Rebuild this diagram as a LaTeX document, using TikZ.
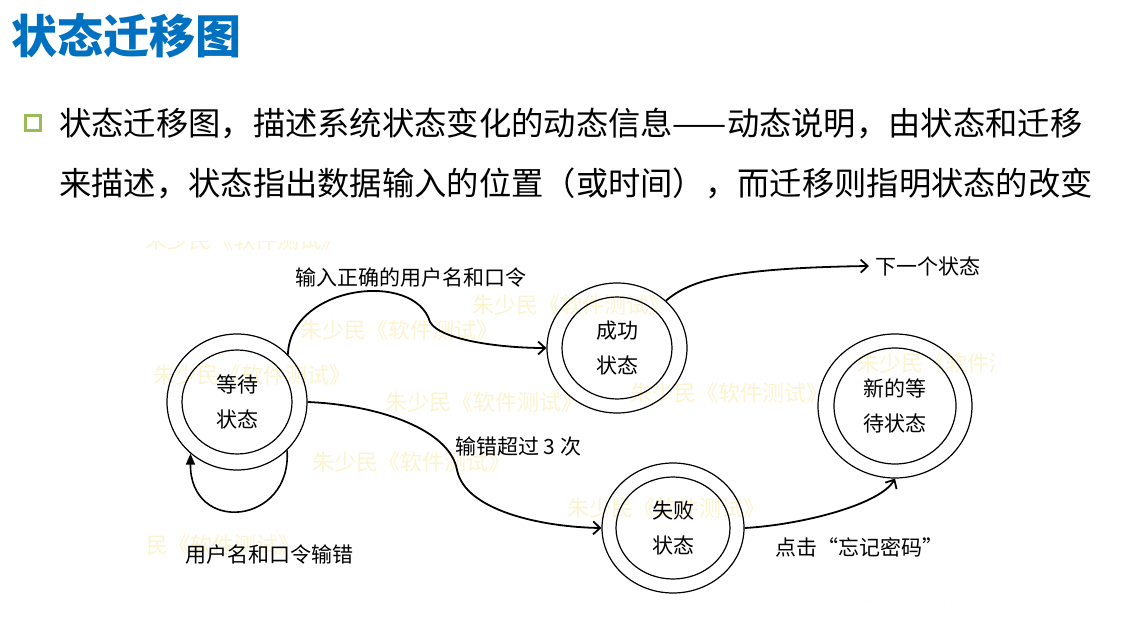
\documentclass[tikz,border=0pt]{standalone}
\usepackage{fontspec}
\setmainfont{Noto Sans CJK SC}
\usetikzlibrary{arrows.meta,shapes.geometric}
\definecolor{titleblue}{RGB}{0,112,192}
\definecolor{bulletgreen}{RGB}{155,187,89}
\definecolor{wm}{RGB}{252,244,208}
\begin{document}
\begin{tikzpicture}[x=1pt,y=-1pt,
  state/.style={ellipse, draw, line width=1.2pt, inner sep=0pt, align=center, font=\fontsize{21}{35}\selectfont},
  innerring/.style={line width=1.2pt},
  edge/.style={line width=1.8pt, -{Straight Barb[length=7pt,width=13pt,line width=1.8pt]}},
  loopedge/.style={line width=1.6pt, -{Triangle[length=11pt,width=9pt]}},
  lbl/.style={font=\fontsize{21}{25}\selectfont, inner sep=0pt, anchor=west},
  wmark/.style={text=wm, font=\fontsize{22}{22}\selectfont, anchor=west, inner sep=0pt},
  bodytext/.style={anchor=west, font=\fontsize{32.3}{33}\selectfont, inner sep=0pt}
]
\useasboundingbox (0,0) rectangle (1121,639);
\fill[white] (0,0) rectangle (1121,639);

% title and bullet text
\node[anchor=west, text=titleblue, font=\fontsize{46}{46}\selectfont\bfseries, inner sep=0pt] (title) at (11,36) {状态迁移图};
\node[draw=bulletgreen, line width=3.5pt, minimum size=15pt, inner sep=0pt] (bul) at (33,123) {};
\node[bodytext] (b1) at (59,124) {状态迁移图，描述系统状态变化的动态信息——动态说明，由状态和迁移};
\node[bodytext] (b2) at (59,183) {来描述，状态指出数据输入的位置（或时间），而迁移则指明状态的改变};

% watermarks
\begin{scope}
\clip (146,241) rectangle (995,600);
\foreach \x/\y [count=\i] in {145/240, 472/305, 300/330, 153/375, 385/402, 630/393, 312/462, 567/508, 102/545, 857/363, 858/611}
  \node[wmark] (wm\i) at (\x,\y) {朱少民《软件测试》};
\end{scope}

% states
\node[state, minimum width=140pt, minimum height=136pt] (w) at (237,402) {等待\\状态};
\draw[innerring] (w.center) ellipse [x radius=55pt, y radius=52pt];
\node[state, minimum width=140pt, minimum height=130pt] (s) at (617,348) {成功\\状态};
\draw[innerring] (s.center) ellipse [x radius=55pt, y radius=51pt];
\node[state, minimum width=142pt, minimum height=130pt] (f) at (673,528) {失败\\状态};
\draw[innerring] (f.center) ellipse [x radius=57pt, y radius=51pt];
\node[state, minimum width=154pt, minimum height=144pt] (n) at (895,406) {新的等\\待状态};
\draw[innerring] (n.center) ellipse [x radius=61pt, y radius=58pt];

% labels
\node[lbl] (l1) at (295,278) {输入正确的用户名和口令};
\node[lbl, inner xsep=6pt] (nx) at (869,266) {下一个状态};
\node[lbl] (l3) at (455,447) {输错超过 3 次};
\node[lbl] (l4) at (775,547) {点击“忘记密码”};
\node[lbl] (l5) at (185,555) {用户名和口令输错};

% transitions
\draw[edge] (w.43) .. controls (290,285) and (415,270) .. (430,322) .. controls (440,340) and (500,348) .. (s.west);
\draw[edge] (s.44) .. controls (690,280) and (730,268) .. (nx.west);
\draw[edge] (w.east) .. controls (380,405) and (450,430) .. (457,470) .. controls (465,510) and (540,527) .. (f.west);
\draw[edge] (f.east) .. controls (800,525) and (880,505) .. (n.south);
\draw[loopedge] (w.-44) .. controls (292,525) and (190,535) .. (w.-132);
\end{tikzpicture}
\end{document}
